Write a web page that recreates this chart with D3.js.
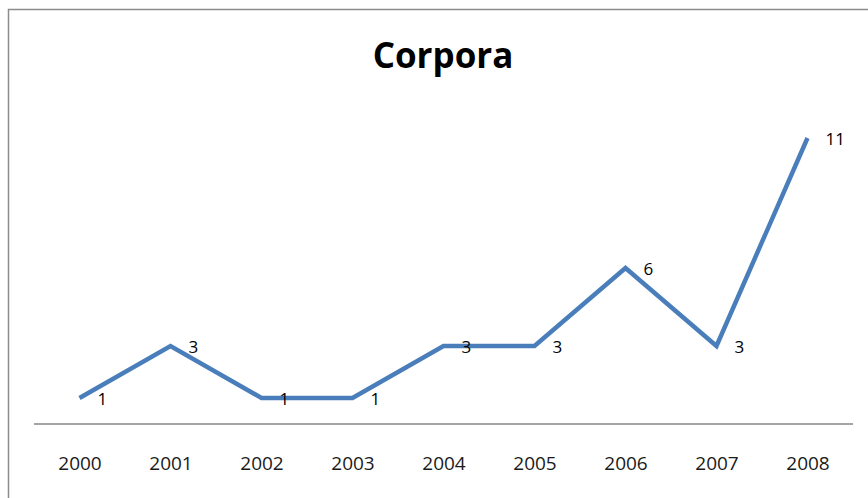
<!DOCTYPE html>
<html><head><meta charset="utf-8">
<script src="https://cdn.jsdelivr.net/npm/d3@7"></script>
<style>body{margin:0;background:#fff}svg{display:block}</style>
</head><body>
<script>
const years = ["2000","2001","2002","2003","2004","2005","2006","2007","2008"];
const values = [1,3,1,1,3,3,6,3,11];
const title = "Corpora";

const W = 868, H = 498;
const svg = d3.select("body").append("svg").attr("width", W).attr("height", H);
svg.append("rect").attr("width", W).attr("height", H).attr("fill", "#fff");
svg.append("rect").attr("x", 8.5).attr("y", 9.5).attr("width", 880).attr("height", 520)
  .attr("fill", "none").attr("stroke", "#8c8c8c").attr("stroke-width", 1.5);

const x = d3.scalePoint().domain(years).range([34, 853]).padding(0.5);
const y = d3.scaleLinear().domain([0, 11]).range([424, 138]);

svg.append("text").attr("x", 443).attr("y", 68).attr("text-anchor", "middle")
  .attr("font-family", "Open Sans, sans-serif").attr("font-weight", "bold")
  .attr("font-size", 35).attr("fill", "#000").text(title);

const xAxis = d3.axisBottom(x).tickSize(0).tickPadding(0);
const g = svg.append("g").attr("transform", "translate(0,424)").call(xAxis);
g.select(".domain").attr("d", "M34,0H853").attr("stroke", "#868686").attr("stroke-width", 1.5);
g.selectAll("text").attr("font-family", "Open Sans, sans-serif").attr("font-size", 19)
  .attr("fill", "#1a1a1a").attr("dy", null).attr("y", 46);

const data = years.map((d, i) => ({year: d, v: values[i]}));
svg.append("path").datum(data)
  .attr("fill", "none").attr("stroke", "#4a7ebb").attr("stroke-width", 4.5)
  .attr("stroke-linejoin", "miter")
  .attr("d", d3.line().x(d => x(d.year)).y(d => y(d.v)));

svg.selectAll(".lbl").data(data).enter().append("text")
  .attr("x", d => x(d.year) + 18).attr("y", d => y(d.v) + 7)
  .attr("font-family", "Open Sans, sans-serif").attr("font-size", 17).attr("fill", "#000")
  .text(d => d.v);
</script>
</body></html>
